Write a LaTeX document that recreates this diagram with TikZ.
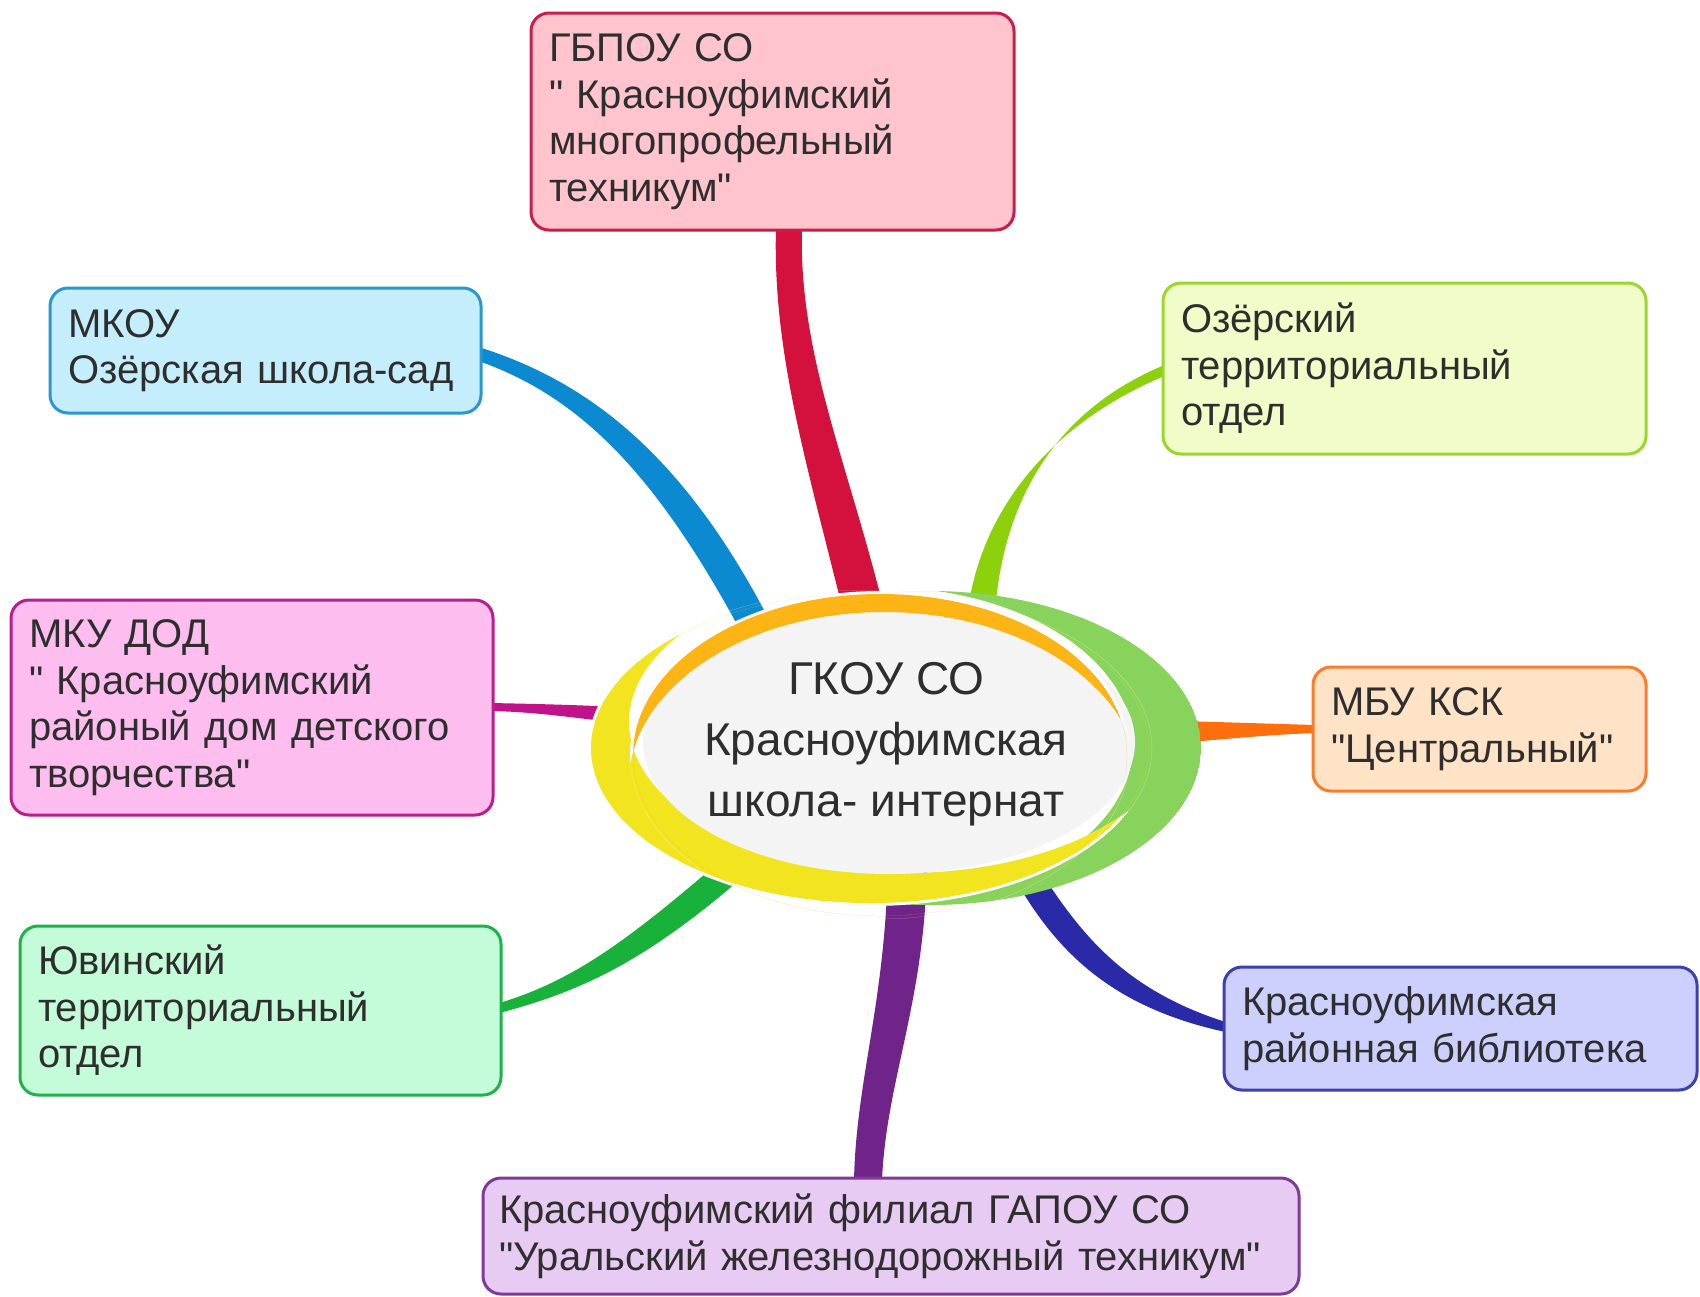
\documentclass[tikz,border=0pt]{standalone}
\usepackage{fontspec}
\setmainfont{Liberation Sans}[Ligatures=TeXOff]
\usetikzlibrary{calc,backgrounds}
\definecolor{txt}{HTML}{2E2E2E}
\definecolor{b1f}{HTML}{FFC4CE}\definecolor{b1d}{HTML}{C81E4A}\definecolor{cred}{HTML}{D4103C}
\definecolor{b2f}{HTML}{C4EEFC}\definecolor{b2d}{HTML}{2C96D3}\definecolor{cblue}{HTML}{0B8AD2}
\definecolor{b3f}{HTML}{F0FDC8}\definecolor{b3d}{HTML}{9AD62E}\definecolor{clime}{HTML}{8CD10C}
\definecolor{b4f}{HTML}{FDBDEE}\definecolor{b4d}{HTML}{BA1E8C}\definecolor{cmag}{HTML}{C2128A}
\definecolor{b5f}{HTML}{FFE3C6}\definecolor{b5d}{HTML}{FF7B2C}\definecolor{corange}{HTML}{FF6E0C}
\definecolor{b6f}{HTML}{C4FBD9}\definecolor{b6d}{HTML}{20B24A}\definecolor{cgreen}{HTML}{18B23A}
\definecolor{b7f}{HTML}{CDD0FF}\definecolor{b7d}{HTML}{3C40B0}\definecolor{cnavy}{HTML}{2A2AA8}
\definecolor{b8f}{HTML}{E8CBF2}\definecolor{b8d}{HTML}{7C3C98}\definecolor{cpurple}{HTML}{702389}
\definecolor{ryellow}{HTML}{F2E41E}\definecolor{rorange}{HTML}{FDB515}\definecolor{rgreen}{HTML}{88D35C}
\definecolor{rinner}{HTML}{F4F4F4}
\newcommand{\boxfont}{\fontsize{20pt}{23.3pt}\selectfont}
\newcommand{\hubfont}{\fontsize{23pt}{30.5pt}\selectfont}
\tikzset{
  box/.style={draw, line width=1.5pt, rounded corners=9pt, align=left,
    inner xsep=9pt, inner ysep=0pt, text=txt, font=\boxfont},
  hubtext/.style={text=txt, font=\hubfont, align=center, inner sep=0pt},
}
\begin{document}
\begin{tikzpicture}[x=0.5pt,y=-0.5pt]
\useasboundingbox (0,0) rectangle (1700,1296);

% boxes
\node[box, draw=b1d, fill=b1f, minimum width=241.5pt, minimum height=108.5pt, text width=223.5pt] (b1) at (772.5,121.5)
  {ГБПОУ~СО\\"~Красноуфимский\\многопрофельный\\техникум"};
\node[box, draw=b2d, fill=b2f, minimum width=215.5pt, minimum height=62.5pt, text width=197.5pt] (b2) at (265.5,350.5)
  {МКОУ\\Озёрская~школа-сад};
\node[box, draw=b3d, fill=b3f, minimum width=241.5pt, minimum height=85.5pt, text width=223.5pt] (b3) at (1404.5,368.5)
  {Озёрский\\территориальный\\отдел};
\node[box, draw=b4d, fill=b4f, minimum width=241pt, minimum height=107.5pt, text width=223pt] (b4) at (252,707.5)
  {МКУ~ДОД\\"~Красноуфимский\\районый~дом~детского\\творчества"};
\node[box, draw=b5d, fill=b5f, minimum width=166.5pt, minimum height=62pt, text width=148.5pt] (b5) at (1479.5,729)
  {МБУ~КСК\\"Центральный"};
\node[box, draw=b6d, fill=b6f, minimum width=240.5pt, minimum height=84.5pt, text width=222.5pt] (b6) at (260.5,1010.5)
  {Ювинский\\территориальный\\отдел};
\node[box, draw=b7d, fill=b7f, minimum width=236.5pt, minimum height=61.5pt, text width=218.5pt] (b7) at (1460.5,1028.5)
  {Красноуфимская\\районная~библиотека};
\node[box, draw=b8d, fill=b8f, minimum width=408pt, minimum height=58pt, text width=392pt, inner xsep=8pt] (b8) at (891,1236)
  {Красноуфимский~филиал~ГАПОУ~СО\\"Уральский~железнодорожный~техникум"};

% central emblem: green crescent (right)
\begin{scope}
  \clip (930,748) ellipse [x radius=135.5pt, y radius=78.5pt];
  \fill[rgreen, even odd rule] (930,748) ellipse [x radius=135.5pt, y radius=78.5pt]
        (880,745) ellipse [x radius=126.5pt, y radius=79pt];
\end{scope}
% yellow crescent (left and bottom) with white rim
\begin{scope}
  \clip (870,748) ellipse [x radius=141pt, y radius=79pt];
  \fill[white, even odd rule] (870,748) ellipse [x radius=141pt, y radius=79pt]
        (905,722) ellipse [x radius=138pt, y radius=75.5pt];
\end{scope}
\begin{scope}
  \clip (870,748) ellipse [x radius=139.5pt, y radius=77.5pt];
  \fill[ryellow, even odd rule] (870,748) ellipse [x radius=139.5pt, y radius=77.5pt]
        (905,722) ellipse [x radius=138pt, y radius=75.5pt];
\end{scope}
% inner disc
\fill[rinner] (889,742) ellipse [x radius=123pt, y radius=66pt];
% orange crescent (top) with white rim
\begin{scope}
  \clip (880,755) ellipse [x radius=125pt, y radius=82pt];
  \fill[white, even odd rule] (880,755) ellipse [x radius=125pt, y radius=82pt]
        (884,785) ellipse [x radius=127.85pt, y radius=86.5pt];
\end{scope}
\begin{scope}
  \clip (880,755) ellipse [x radius=123.5pt, y radius=80.5pt];
  \fill[rorange, even odd rule] (880,755) ellipse [x radius=123.5pt, y radius=80.5pt]
        (884,785) ellipse [x radius=127.85pt, y radius=86.5pt];
\end{scope}
\node[hubtext] (hub) at (886,744) {ГКОУ СО\\Красноуфимская\\школа- интернат};

% connectors
\begin{pgfonlayer}{background}
\fill[white] (0,0) rectangle (1700,1296);
\fill[cred] ($(b1.south)+(3.5,-4)$) .. controls (772,360) and (812,480) .. (850,640)
  -- (890,635) .. controls (852,470) and (798,360) .. ($(b1.south)+(29.5,-4)$) -- cycle;
\fill[cblue] ($(b2.east)+(-4,-3.5)$) .. controls (600,385) and (700,470) .. (790,662)
  -- (763,674) .. controls (670,490) and (590,400) .. ($(b2.east)+(-4,10.5)$) -- cycle;
\fill[clime] ($(b3.west)+(3,-3.5)$) .. controls (1080,400) and (1010,470) .. (996,600)
  -- (970,597) .. controls (990,490) and (1070,415) .. ($(b3.west)+(3,7.5)$) -- cycle;
\fill[cmag] ($(b4.east)+(-3,-4.5)$) .. controls (540,704) and (580,705) .. (615,707)
  -- (615,722) .. controls (580,719) and (540,712) .. ($(b4.east)+(-3,3.5)$) -- cycle;
\fill[corange] ($(b5.west)+(3,-4)$) -- (1150,720) -- (1150,745)
  .. controls (1220,740) and (1260,735) .. ($(b5.west)+(3,4)$) -- cycle;
\fill[cgreen] ($(b6.east)+(-3,-7.5)$) .. controls (575,980) and (630,940) .. (742,842)
  -- (760,862) .. controls (650,960) and (585,990) .. ($(b6.east)+(-3,2.5)$) -- cycle;
\fill[cnavy] (1042,874) .. controls (1082,935) and (1125,990) .. ($(b7.west)+(3,-6.5)$)
  -- ($(b7.west)+(3,3.5)$) .. controls (1115,1008) and (1060,955) .. (1019,886) -- cycle;
\fill[cpurple] (888,860) .. controls (886,1000) and (856,1080) .. ($(b8.north)+(-37,4)$)
  -- ($(b8.north)+(-9,4)$) .. controls (886,1080) and (926,1000) .. (927,860) -- cycle;
\end{pgfonlayer}
\end{tikzpicture}
\end{document}
